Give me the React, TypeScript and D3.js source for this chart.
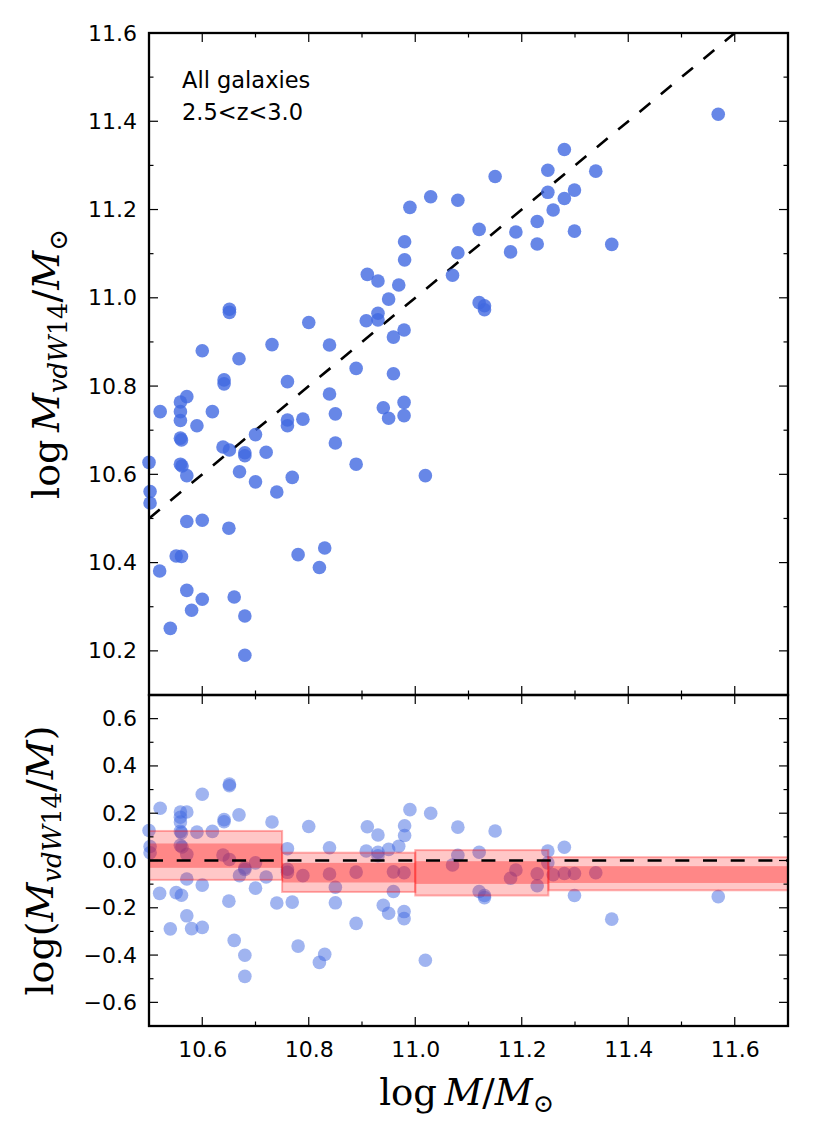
import { useEffect, useRef } from "react";
import * as d3 from "d3";

// log M (dynamical / stellar mass proxy) and log M_vdW14
const logM = [
  10.651, 10.651, 10.6, 10.669, 10.731, 10.8, 10.839, 10.889, 10.959, 10.979,
  10.959, 10.908, 10.93, 10.93, 10.95, 10.969, 10.76, 10.641, 10.641, 10.571,
  10.559, 10.559, 10.559, 10.521, 10.619, 10.59, 10.559, 10.561, 10.5, 10.559,
  10.562, 10.571, 10.502, 10.502, 10.639, 10.651, 10.68, 10.68, 10.7, 10.72,
  10.67, 10.7, 10.74, 10.769, 10.76, 10.76, 10.789, 10.839, 10.85, 10.85,
  10.889, 10.94, 10.95, 10.979, 10.979, 11.019, 10.571, 10.6, 10.65, 10.551,
  10.561, 10.52, 10.78, 10.83, 10.82, 10.571, 10.6, 10.66, 10.58, 10.68,
  10.54, 10.68, 11.569, 11.28, 11.249, 11.339, 11.15, 11.249, 11.299, 11.28,
  11.029, 11.08, 10.99, 11.259, 11.229, 11.299, 11.12, 11.189, 11.229, 11.369,
  11.179, 11.08, 10.98, 10.98, 11.07, 10.91, 10.93, 11.12, 11.13, 11.13,
];
const logMvd = [
  10.974, 10.967, 10.88, 10.862, 10.894, 10.944, 10.893, 10.84, 10.828, 10.927,
  10.911, 10.948, 10.965, 10.95, 10.997, 11.029, 10.81, 10.814, 10.805, 10.776,
  10.764, 10.742, 10.722, 10.742, 10.742, 10.71, 10.682, 10.678, 10.627, 10.623,
  10.619, 10.597, 10.561, 10.535, 10.662, 10.655, 10.649, 10.642, 10.69, 10.65,
  10.606, 10.583, 10.56, 10.593, 10.723, 10.71, 10.725, 10.782, 10.737, 10.671,
  10.623, 10.751, 10.727, 10.763, 10.733, 10.597, 10.493, 10.496, 10.478, 10.415,
  10.414, 10.381, 10.418, 10.433, 10.389, 10.337, 10.317, 10.322, 10.292, 10.279,
  10.251, 10.19, 11.416, 11.336, 11.289, 11.287, 11.275, 11.239, 11.244, 11.225,
  11.229, 11.221, 11.205, 11.199, 11.173, 11.151, 11.155, 11.149, 11.122, 11.121,
  11.104, 11.102, 11.127, 11.086, 11.051, 11.053, 11.038, 10.989, 10.982, 10.973,
];

// running-residual bins (bottom panel)
const binEdges = [10.5, 10.75, 11.0, 11.25, 11.7];
const binOuterLo = [-0.082, -0.133, -0.148, -0.126];
const binOuterHi = [0.125, 0.033, 0.044, 0.014];
const binInnerLo = [-0.031, -0.093, -0.099, -0.095];
const binInnerHi = [0.072, -0.01, -0.003, -0.024];

const xMajor = [10.6, 10.8, 11.0, 11.2, 11.4, 11.6];
const xMinor = [10.5, 10.7, 10.9, 11.1, 11.3, 11.5, 11.7];
const yTopMajor = [10.2, 10.4, 10.6, 10.8, 11.0, 11.2, 11.4, 11.6];
const yTopMinor = [10.1, 10.3, 10.5, 10.7, 10.9, 11.1, 11.3, 11.5];
const yBotMajor = [-0.6, -0.4, -0.2, 0.0, 0.2, 0.4, 0.6];
const yBotMinor = [-0.7, -0.5, -0.3, -0.1, 0.1, 0.3, 0.5, 0.7];

const annotation = ["All galaxies", "2.5<z<3.0"];

type Part = { t: string; it?: boolean; sub?: boolean };

export default function App() {
  const svgRef = useRef<SVGSVGElement | null>(null);

  useEffect(() => {
    const W = 830, H = 1129;
    const left = 149, right = 788, top = 33, mid = 695, bottom = 1026;
    const svg = d3.select(svgRef.current);
    svg.selectAll("*").remove();
    svg.attr("width", W).attr("height", H);

    const x = d3.scaleLinear().domain([10.5, 11.7]).range([left, right]);
    const yTop = d3.scaleLinear().domain([10.1, 11.6]).range([mid, top]);
    const yBot = d3.scaleLinear().domain([-0.7, 0.7]).range([bottom, mid]);

    const tickFont = "'DejaVu Sans', sans-serif";
    const mathFont = "'DejaVu Serif', serif";
    const fmt = d3.format(".1f");

    const resid = logM.map((m, i) => logMvd[i] - m);

    // ---- top panel
    const gTop = svg.append("g");
    gTop.append("line")
      .attr("x1", x(10.5)).attr("y1", yTop(10.5))
      .attr("x2", x(11.6)).attr("y2", yTop(11.6))
      .attr("stroke", "#000").attr("stroke-width", 2.6).attr("stroke-dasharray", "14 13.7");

    gTop.selectAll("circle")
      .data(logM)
      .join("circle")
      .attr("cx", d => x(d))
      .attr("cy", (_, i) => yTop(logMvd[i]))
      .attr("r", 6.8)
      .attr("fill", "royalblue")
      .attr("fill-opacity", 0.8);

    annotation.forEach((t, i) => {
      gTop.append("text")
        .attr("x", 182).attr("y", 88 + i * 31.5)
        .attr("font-family", tickFont).attr("font-size", 22.5)
        .text(t);
    });

    // ---- bottom panel
    const gBot = svg.append("g");
    gBot.selectAll("circle")
      .data(logM)
      .join("circle")
      .attr("cx", d => x(d))
      .attr("cy", (_, i) => yBot(resid[i]))
      .attr("r", 6.8)
      .attr("fill", "royalblue")
      .attr("fill-opacity", 0.5);

    binOuterLo.forEach((lo, i) => {
      gBot.append("rect")
        .attr("x", x(binEdges[i])).attr("width", x(binEdges[i + 1]) - x(binEdges[i]))
        .attr("y", yBot(binOuterHi[i])).attr("height", yBot(lo) - yBot(binOuterHi[i]))
        .attr("fill", "red").attr("fill-opacity", 0.22)
        .attr("stroke", "red").attr("stroke-opacity", 0.3).attr("stroke-width", 2);
      gBot.append("rect")
        .attr("x", x(binEdges[i])).attr("width", x(binEdges[i + 1]) - x(binEdges[i]))
        .attr("y", yBot(binInnerHi[i])).attr("height", yBot(binInnerLo[i]) - yBot(binInnerHi[i]))
        .attr("fill", "red").attr("fill-opacity", 0.32);
    });

    gBot.append("line")
      .attr("x1", left).attr("x2", right)
      .attr("y1", yBot(0)).attr("y2", yBot(0))
      .attr("stroke", "#000").attr("stroke-width", 2.6).attr("stroke-dasharray", "14 13.7");

    // ---- ticks (inward, all four sides)
    const tickLines = (vals: number[], len: number, side: string, scale: any, y0: number, y1: number) => {
      const g = svg.append("g").attr("stroke", "#000").attr("stroke-width", 1.2);
      vals.forEach(v => {
        const p = scale(v);
        if (side === "bottom") g.append("line").attr("x1", p).attr("x2", p).attr("y1", y1).attr("y2", y1 - len);
        if (side === "top") g.append("line").attr("x1", p).attr("x2", p).attr("y1", y0).attr("y2", y0 + len);
        if (side === "left") g.append("line").attr("y1", p).attr("y2", p).attr("x1", left).attr("x2", left + len);
        if (side === "right") g.append("line").attr("y1", p).attr("y2", p).attr("x1", right).attr("x2", right - len);
      });
    };
    [[top, mid], [mid, bottom]].forEach(([a, b]) => {
      tickLines(xMajor, 9, "top", x, a, b);
      tickLines(xMajor, 9, "bottom", x, a, b);
      tickLines(xMinor, 4.5, "top", x, a, b);
      tickLines(xMinor, 4.5, "bottom", x, a, b);
    });
    ["left", "right"].forEach(s => {
      tickLines(yTopMajor, 9, s, yTop, 0, 0);
      tickLines(yTopMinor, 4.5, s, yTop, 0, 0);
      tickLines(yBotMajor, 9, s, yBot, 0, 0);
      tickLines(yBotMinor, 4.5, s, yBot, 0, 0);
    });

    // tick labels via d3 axes
    const styleAxis = (g: any) => {
      g.select(".domain").remove();
      g.selectAll(".tick line").remove();
      g.selectAll("text").attr("font-family", tickFont).attr("font-size", 22).attr("fill", "#000");
    };
    svg.append("g").attr("transform", `translate(0,${bottom})`)
      .call(d3.axisBottom(x).tickValues(xMajor).tickFormat(fmt).tickSize(0).tickPadding(15))
      .call(styleAxis);
    svg.append("g").attr("transform", `translate(${left},0)`)
      .call(d3.axisLeft(yTop).tickValues(yTopMajor).tickFormat(fmt).tickSize(0).tickPadding(12))
      .call(styleAxis);
    svg.append("g").attr("transform", `translate(${left},0)`)
      .call(d3.axisLeft(yBot).tickValues(yBotMajor).tickFormat(fmt).tickSize(0).tickPadding(12))
      .call(styleAxis);

    // frames
    [[top, mid], [mid, bottom]].forEach(([a, b]) => {
      svg.append("rect")
        .attr("x", left).attr("y", a).attr("width", right - left).attr("height", b - a)
        .attr("fill", "none").attr("stroke", "#000").attr("stroke-width", 2.3);
    });

    // axis labels (math style)
    const mathLabel = (parts: Part[], size: number) => {
      const t = svg.append("text")
        .attr("font-family", mathFont).attr("font-size", size)
        .attr("text-anchor", "middle").attr("fill", "#000");
      const shift = size * 0.2;
      let inSub = false;
      parts.forEach(p => {
        const sp = t.append("tspan").text(p.t);
        if (p.it) sp.attr("font-style", "italic");
        if (p.sub) sp.attr("font-size", size * 0.68);
        if (p.sub && !inSub) sp.attr("dy", shift);
        if (!p.sub && inSub) sp.attr("dy", -shift);
        inSub = !!p.sub;
      });
      return t;
    };

    mathLabel([
      { t: "log\u2009" }, { t: "M", it: true }, { t: "vdW", it: true, sub: true }, { t: "14", sub: true },
      { t: "/" }, { t: "M", it: true }, { t: "\u2299", sub: true },
    ], 38).attr("transform", `translate(59,${(top + mid) / 2}) rotate(-90)`);
    mathLabel([
      { t: "log(" }, { t: "M", it: true }, { t: "vdW", it: true, sub: true }, { t: "14", sub: true },
      { t: "/" }, { t: "M", it: true }, { t: ")" },
    ], 38).attr("transform", `translate(53,${(mid + bottom) / 2}) rotate(-90)`);
    mathLabel([
      { t: "log\u2009" }, { t: "M", it: true }, { t: "/" }, { t: "M", it: true }, { t: "\u2299", sub: true },
    ], 37).attr("transform", `translate(${(left + right) / 2 - 2},1105)`);
  }, []);

  return (
    <div style={{ position: "absolute", left: 0, top: 0, width: 830, height: 1129, background: "#fff" }}>
      <svg ref={svgRef} style={{ display: "block" }}></svg>
    </div>
  );
}
